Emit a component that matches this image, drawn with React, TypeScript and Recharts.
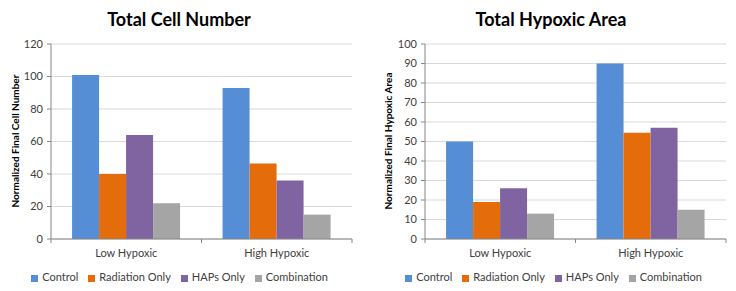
import React from 'react';
import { BarChart, Bar, XAxis, YAxis, CartesianGrid, Legend } from 'recharts';

const categories = ['Low Hypoxic', 'High Hypoxic'];
const seriesNames = ['Control', 'Radiation Only', 'HAPs Only', 'Combination'];
const seriesColors = ['#558ED5', '#E46C0A', '#8064A2', '#A5A5A5'];

// Total Cell Number
const cellControl = [101, 93];
const cellRadiation = [40, 46.5];
const cellHaps = [64, 36];
const cellCombination = [22, 15];
const cellTicks = [0, 20, 40, 60, 80, 100, 120];

// Total Hypoxic Area
const areaControl = [50, 90];
const areaRadiation = [19, 54.5];
const areaHaps = [26, 57];
const areaCombination = [13, 15];
const areaTicks = [0, 10, 20, 30, 40, 50, 60, 70, 80, 90, 100];

const FONT = 'Lato, "Open Sans", sans-serif';
const TEXT = '#404040';
const AXIS = '#868686';

const buildRows = (series: number[][]) =>
  categories.map((name, i) => {
    const row: Record<string, string | number> = { name };
    seriesNames.forEach((s, k) => {
      row[s] = series[k][i];
    });
    return row;
  });

const cellData = buildRows([cellControl, cellRadiation, cellHaps, cellCombination]);
const areaData = buildRows([areaControl, areaRadiation, areaHaps, areaCombination]);

const CategoryTick = (props: any) => {
  const { x, y, payload, index, width, visibleTicksCount } = props;
  const half = width / visibleTicksCount / 2;
  const last = index === visibleTicksCount - 1;
  return (
    <g>
      <line x1={x - half} y1={y} x2={x - half} y2={y + 4} stroke={AXIS} />
      {last && <line x1={x + half} y1={y} x2={x + half} y2={y + 4} stroke={AXIS} />}
      <text x={x} y={y + 18} textAnchor="middle" fill={TEXT} fontSize={11} fontFamily={FONT}>
        {payload.value}
      </text>
    </g>
  );
};

interface PanelProps {
  title: string;
  yLabel: string;
  data: Record<string, string | number>[];
  ticks: number[];
  left: number;
  yLabelX: number;
  titleX: number;
}

const Panel = ({ title, yLabel, data, ticks, left, yLabelX, titleX }: PanelProps) => (
  <div style={{ position: 'absolute', left: 0, top: 0, width: 368, height: 291 }}>
    <div
      style={{
        position: 'absolute',
        left: titleX - 150,
        width: 300,
        top: 8,
        textAlign: 'center',
        fontFamily: FONT,
        fontWeight: 700,
        fontSize: 18,
        color: '#000',
      }}
    >
      {title}
    </div>
    <div
      style={{
        position: 'absolute',
        left: yLabelX - 100,
        top: 141 - 7,
        width: 200,
        height: 14,
        lineHeight: '14px',
        textAlign: 'center',
        transform: 'rotate(-90deg)',
        fontFamily: FONT,
        fontWeight: 700,
        fontSize: 10,
        color: '#000',
      }}
    >
      {yLabel}
    </div>
    <BarChart
      width={368}
      height={291}
      data={data}
      margin={{ top: 44, right: 368 - (left + 301), left: left - 34, bottom: 17 }}
      barCategoryGap="14%"
      barGap={0}
    >
      <CartesianGrid vertical={false} stroke="#D9D9D9" />
      <XAxis
        dataKey="name"
        axisLine={{ stroke: AXIS }}
        tickLine={false}
        tickSize={0}
        tickMargin={0}
        tick={<CategoryTick />}
        interval={0}
        height={22}
      />
      <YAxis
        width={34}
        domain={[ticks[0], ticks[ticks.length - 1]]}
        ticks={ticks}
        interval={0}
        axisLine={{ stroke: AXIS }}
        tickLine={{ stroke: AXIS }}
        tickSize={4}
        tickMargin={4}
        tick={{ fill: TEXT, fontSize: 11, fontFamily: FONT }}
      />
      <Legend
        verticalAlign="bottom"
        align="center"
        iconType="square"
        iconSize={7}
        itemSorter={(item: any) => seriesNames.indexOf(item.value)}
        wrapperStyle={{ fontFamily: FONT, fontSize: 11, color: TEXT, bottom: 8 }}
        formatter={(v: string) => <span style={{ color: TEXT }}>{v}</span>}
      />
      {seriesNames.map((s, k) => (
        <Bar key={s} dataKey={s} fill={seriesColors[k]} isAnimationActive={false} />
      ))}
    </BarChart>
  </div>
);

export default function App() {
  return (
    <div style={{ position: 'absolute', left: 0, top: 0, width: 736, height: 291, background: '#fff' }}>
      <div style={{ position: 'absolute', left: 0, top: 0, width: 368, height: 291 }}>
        <Panel
          title="Total Cell Number"
          yLabel="Normalized Final Cell Number"
          data={cellData}
          ticks={cellTicks}
          left={51}
          yLabelX={15}
          titleX={179}
        />
      </div>
      <div style={{ position: 'absolute', left: 368, top: 0, width: 368, height: 291 }}>
        <Panel
          title="Total Hypoxic Area"
          yLabel="Normalized Final Hypoxic Area"
          data={areaData}
          ticks={areaTicks}
          left={57}
          yLabelX={20}
          titleX={183}
        />
      </div>
    </div>
  );
}
